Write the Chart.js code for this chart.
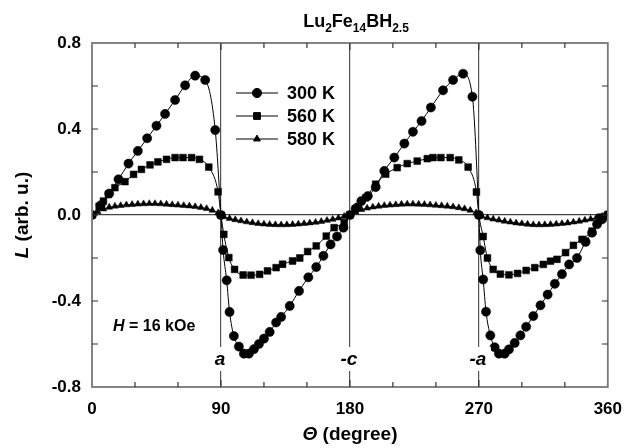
<!DOCTYPE html>
<html>
<head>
<meta charset="utf-8">
<script src="https://cdn.jsdelivr.net/npm/chart.js@4"></script>
<style>
  body { margin: 0; background: #fff; }
  #wrap { width: 634px; height: 448px; position: relative; }
</style>
</head>
<body>
<div id="wrap"><canvas id="chart"></canvas></div>
<script>
// data
const theta300 = [0, 6, 12, 18.5, 25.5, 32, 38.5, 45, 51, 58, 65, 72, 79, 86, 90,
  91.5, 94, 96, 99, 102.5, 106, 109.5, 113, 116.5, 120, 124, 128.5, 132, 138, 144.5,
  151, 156.5, 161.5, 166.5, 171, 175.5, 180,
  184, 188, 192.5, 198, 204, 211, 218, 224, 230, 236.5, 245, 252, 259, 265.5, 270,
  271, 273, 275, 278, 281, 284, 288, 291, 295, 299, 303, 308, 313, 318, 323, 328,
  333, 338.5, 344.5, 349, 352.5, 356, 360];
const l300 = [0, 0.045, 0.10, 0.166, 0.239, 0.298, 0.357, 0.415, 0.47, 0.535, 0.603, 0.648, 0.628, 0.395, 0,
  -0.163, -0.304, -0.451, -0.563, -0.612, -0.645, -0.645, -0.624, -0.6, -0.575, -0.544, -0.5, -0.474, -0.423, -0.353,
  -0.29, -0.242, -0.19, -0.137, -0.1, -0.059, 0,
  0.03, 0.065, 0.088, 0.13, 0.205, 0.267, 0.332, 0.387, 0.437, 0.5, 0.58, 0.628, 0.657, 0.55, 0,
  -0.164, -0.3, -0.45, -0.56, -0.615, -0.645, -0.645, -0.625, -0.595, -0.56, -0.52, -0.47, -0.42, -0.37, -0.32, -0.275,
  -0.23, -0.2, -0.125, -0.082, -0.043, -0.02, 0];

const theta560 = [0, 5, 8, 11.5, 16, 23, 29, 34.5, 40.5, 46, 52, 58, 63.5, 69.5, 75, 81.5, 88, 90,
  92, 95.5, 99.5, 105.5, 111, 117, 122.5, 128.5, 133, 140, 145, 150.5, 156.5, 163.5, 169, 176, 180,
  186, 191, 198, 205, 213, 220, 227, 234, 238, 243.5, 250, 256, 262.5, 268.3, 270,
  273, 276, 280, 285, 291, 297, 303, 309, 315, 320, 324.5, 330.5, 336, 342, 349, 355, 360];
const l560 = [0, 0.04, 0.065, 0.096, 0.127, 0.155, 0.189, 0.212, 0.233, 0.247, 0.259, 0.267, 0.267, 0.267, 0.259, 0.223, 0.108, 0,
  -0.09, -0.198, -0.253, -0.279, -0.28, -0.276, -0.26, -0.245, -0.229, -0.214, -0.2, -0.17, -0.144, -0.098, -0.059, -0.036, 0,
  0.04, 0.08, 0.143, 0.19, 0.22, 0.239, 0.251, 0.262, 0.267, 0.267, 0.267, 0.256, 0.223, 0.107, 0,
  -0.1, -0.2, -0.253, -0.275, -0.278, -0.272, -0.258, -0.245, -0.23, -0.215, -0.206, -0.175, -0.141, -0.113, -0.075, -0.01, 0];

const theta580 = [0, 4, 8, 12, 16, 20, 24, 28, 32, 36, 40, 44, 48, 52, 56, 60, 64, 68, 72, 76, 80, 84, 88,
  92, 96, 100, 104, 108, 112, 116, 120, 124, 128, 132, 136, 140, 144, 148, 152, 156, 160, 164, 168, 172, 176, 180,
  184, 188, 192, 196, 200, 204, 208, 212, 216, 220, 224, 228, 232, 236, 240, 244, 248, 252, 256, 260, 264, 268,
  272, 276, 280, 284, 288, 292, 296, 300, 304, 308, 312, 316, 320, 324, 328, 332, 336, 340, 344, 348, 352, 356, 360];
const l580 = [0, 0.015, 0.028, 0.036, 0.041, 0.044, 0.047, 0.049, 0.051, 0.052, 0.053, 0.053, 0.052, 0.05, 0.048, 0.046, 0.044, 0.042, 0.039, 0.035, 0.03, 0.022, 0.01,
  -0.008, -0.016, -0.022, -0.027, -0.032, -0.036, -0.04, -0.042, -0.044, -0.045, -0.046, -0.045, -0.044, -0.042, -0.04, -0.037, -0.034, -0.03, -0.025, -0.02, -0.014, -0.007, 0,
  0.014, 0.025, 0.032, 0.037, 0.041, 0.044, 0.046, 0.048, 0.05, 0.051, 0.051, 0.05, 0.049, 0.047, 0.045, 0.043, 0.041, 0.038, 0.034, 0.029, 0.022, 0.01,
  -0.006, -0.013, -0.019, -0.024, -0.029, -0.033, -0.037, -0.04, -0.043, -0.045, -0.046, -0.045, -0.044, -0.042, -0.04, -0.037, -0.033, -0.029, -0.024, -0.019, -0.013, -0.006, 0];

const seriesNames = ["300 K", "560 K", "580 K"];
const xTickLabels = [0, 90, 180, 270, 360];
const yTickLabels = [-0.8, -0.4, 0, 0.4, 0.8];
const axisMarks = [{ at: 90, text: "a" }, { at: 180, text: "-c" }, { at: 270, text: "-a" }];

const FONT = "'Liberation Sans', Arial, sans-serif";

function zip(xs, ys) {
  return xs.map(function (x, i) { return { x: x, y: ys[i] }; });
}

const styles = [
  { pointStyle: "circle", radius: 4.6 },
  { pointStyle: "rect", radius: 4.8 },
  { pointStyle: "triangle", radius: 3.9 }
];

function ds(i, pts) {
  return {
    label: seriesNames[i],
    data: pts,
    showLine: true,
    borderColor: "#000",
    borderWidth: 1,
    backgroundColor: "#000",
    pointBackgroundColor: "#000",
    pointBorderColor: "#000",
    pointBorderWidth: 0.5,
    pointStyle: styles[i].pointStyle,
    pointRadius: styles[i].radius,
    pointHoverRadius: styles[i].radius,
    cubicInterpolationMode: "monotone"
  };
}

// draw a run of text pieces: [text, size, style, dy]
function rich(ctx, parts, x, y, align) {
  let total = 0;
  parts.forEach(function (p) {
    ctx.font = p[2] + " " + p[1] + "px " + FONT;
    total += ctx.measureText(p[0]).width;
  });
  let cx = align === "center" ? x - total / 2 : x;
  ctx.textAlign = "left";
  ctx.textBaseline = "alphabetic";
  parts.forEach(function (p) {
    ctx.font = p[2] + " " + p[1] + "px " + FONT;
    ctx.fillText(p[0], cx, y + (p[3] || 0));
    cx += ctx.measureText(p[0]).width;
  });
}

const decorations = {
  id: "decorations",
  afterDraw: function (chart) {
    const ctx = chart.ctx;
    const a = chart.chartArea;
    const xs = chart.scales.x, ys = chart.scales.y;
    ctx.save();
    ctx.fillStyle = "#000";

    // frame
    ctx.strokeStyle = "#777";
    ctx.lineWidth = 1.8;
    ctx.strokeRect(a.left, a.top, a.right - a.left, a.bottom - a.top);

    // inward ticks
    ctx.lineWidth = 1.2;
    ctx.strokeStyle = "#333";
    for (let v = 30; v < 360; v += 30) {
      const px = xs.getPixelForValue(v);
      const len = v % 90 === 0 ? 7 : 5;
      ctx.beginPath();
      ctx.moveTo(px, a.bottom); ctx.lineTo(px, a.bottom - len);
      ctx.moveTo(px, a.top); ctx.lineTo(px, a.top + len);
      ctx.stroke();
    }
    for (let k = -3; k <= 3; k++) {
      const py = ys.getPixelForValue(k * 0.2);
      ctx.beginPath();
      ctx.moveTo(a.left, py); ctx.lineTo(a.left + 6, py);
      ctx.moveTo(a.right, py); ctx.lineTo(a.right - 6, py);
      ctx.stroke();
    }

    // a, -c, -a marks
    axisMarks.forEach(function (m) {
      const px = xs.getPixelForValue(m.at);
      ctx.fillStyle = "#fff";
      ctx.fillRect(px - 12, 347, 24, 24);
      ctx.fillStyle = "#000";
      ctx.font = "italic bold 19px " + FONT;
      ctx.textAlign = "center";
      ctx.textBaseline = "middle";
      ctx.fillText(m.text, px - 1, 360);
    });

    // H = 16 kOe
    rich(ctx, [["H", 16, "italic bold"], [" = 16 kOe", 16, "bold"]], 113, 331, "left");

    // legend
    const lx0 = 236, lx1 = 278, mx = 257, tx = 287;
    const rows = [93, 116, 139];
    rows.forEach(function (ry, i) {
      ctx.strokeStyle = "#000";
      ctx.lineWidth = 1;
      ctx.beginPath(); ctx.moveTo(lx0, ry); ctx.lineTo(lx1, ry); ctx.stroke();
      Chart.helpers.drawPoint(ctx, {
        pointStyle: styles[i].pointStyle, radius: styles[i].radius, rotation: 0, borderWidth: 0.5
      }, mx, ry);
      ctx.fillStyle = "#000";
      ctx.font = "bold 18px " + FONT;
      ctx.textAlign = "left";
      ctx.textBaseline = "middle";
      ctx.fillText(seriesNames[i], tx, ry + 1);
    });

    // chart title with subscripts
    ctx.fillStyle = "#000";
    rich(ctx, [["Lu", 18, "bold"], ["2", 12, "bold", 5], ["Fe", 18, "bold"], ["14", 12, "bold", 5],
      ["BH", 18, "bold"], ["2.5", 12, "bold", 5]], 356, 27, "center");

    // x axis title
    rich(ctx, [["\u0398", 19, "italic bold"], [" (degree)", 19, "bold"]], 350, 440, "center");

    // y axis title
    ctx.save();
    ctx.translate(28, 215);
    ctx.rotate(-Math.PI / 2);
    rich(ctx, [["L", 19, "italic bold"], [" (arb. u.)", 19, "bold"]], 0, 0, "center");
    ctx.restore();

    ctx.restore();
  }
};

new Chart(document.getElementById("chart"), {
  type: "scatter",
  data: {
    datasets: [
      ds(2, zip(theta580, l580)),
      ds(1, zip(theta560, l560)),
      ds(0, zip(theta300, l300))
    ]
  },
  options: {
    responsive: true,
    maintainAspectRatio: false,
    animation: false,
    layout: { padding: { left: 0, right: 25, top: 43, bottom: 0 } },
    plugins: { legend: { display: false }, title: { display: false }, tooltip: { enabled: false } },
    scales: {
      x: {
        type: "linear",
        min: 0, max: 360,
        afterFit: function (s) { s.height = 61; },
        border: { display: false },
        grid: {
          drawTicks: false,
          lineWidth: 1.2,
          color: function (c) {
            const v = c.tick && c.tick.value;
            return (v === 90 || v === 180 || v === 270) ? "#555" : "rgba(0,0,0,0)";
          }
        },
        ticks: {
          stepSize: 30,
          padding: 12,
          color: "#000",
          font: { family: FONT, size: 17, weight: "bold" },
          maxRotation: 0,
          autoSkip: false,
          callback: function (v) { return xTickLabels.indexOf(v) >= 0 ? String(v) : ""; }
        }
      },
      y: {
        min: -0.8, max: 0.8,
        afterFit: function (s) { s.width = 92; },
        border: { display: false },
        grid: {
          drawTicks: false,
          lineWidth: 1.2,
          color: function (c) {
            const v = c.tick && c.tick.value;
            return Math.abs(v) < 1e-9 ? "#444" : "rgba(0,0,0,0)";
          }
        },
        ticks: {
          stepSize: 0.2,
          padding: 11,
          color: "#000",
          font: { family: FONT, size: 17, weight: "bold" },
          autoSkip: false,
          callback: function (v) {
            const r = Math.round(v * 10) / 10;
            return yTickLabels.some(function (t) { return Math.abs(t - r) < 1e-9; }) ? r.toFixed(1) : "";
          }
        }
      }
    }
  },
  plugins: [decorations]
});
</script>
</body>
</html>
